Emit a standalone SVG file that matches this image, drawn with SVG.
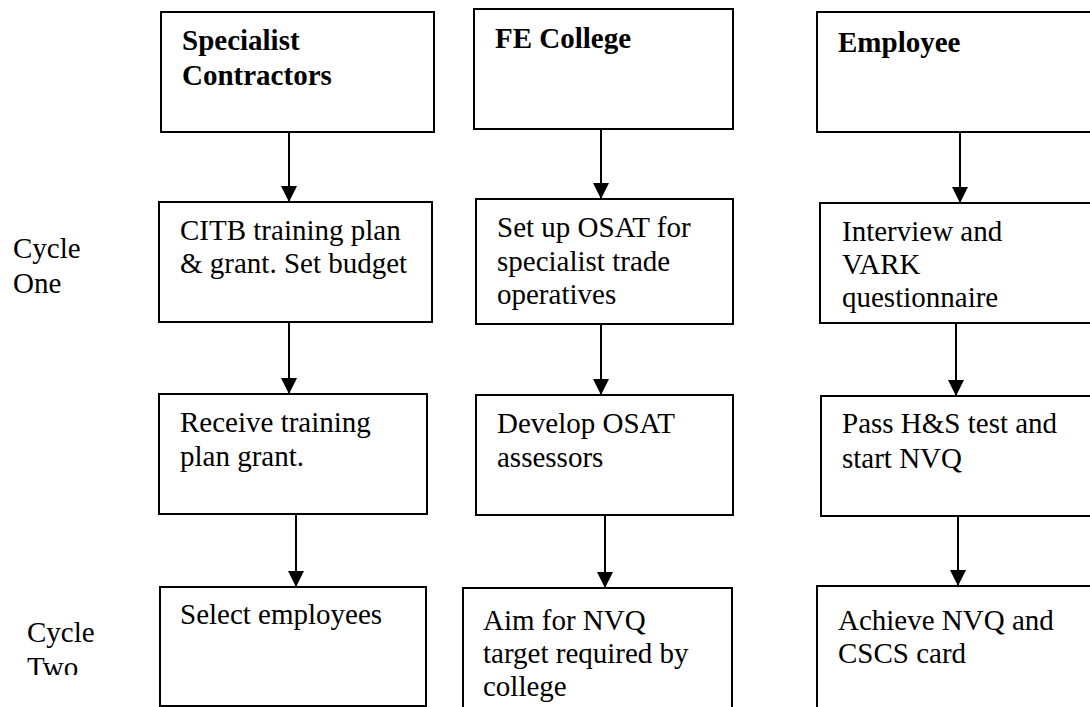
<svg xmlns="http://www.w3.org/2000/svg" width="1090" height="707" viewBox="0 0 1090 707">
<style>
.box{fill:#fff;stroke:#000;stroke-width:2}
.t{font-family:"Liberation Serif","Times New Roman",serif;font-size:29px;fill:#000}
.b{font-weight:bold}
.c{stroke:#000;stroke-width:2;fill:none;marker-end:url(#ah)}
</style>
<defs>
<marker id="ah" markerUnits="userSpaceOnUse" markerWidth="16" markerHeight="16" viewBox="0 0 16 16" refX="16" refY="8" orient="auto">
<path d="M0,0 L16,8 L0,16 z" fill="#000"/>
</marker>
<clipPath id="clipTwo"><rect x="0" y="600" width="150" height="75"/></clipPath>
</defs>
<rect width="1090" height="707" fill="#fff"/>

<g id="label-cycle-one">
<text class="t" x="13" y="258">Cycle</text>
<text class="t" x="13" y="293">One</text>
</g>
<g id="label-cycle-two" clip-path="url(#clipTwo)">
<text class="t" x="27" y="642">Cycle</text>
<text class="t" x="27" y="677">Two</text>
</g>

<g id="connectors">
<line class="c" x1="289" y1="132" x2="289" y2="202"/>
<line class="c" x1="289" y1="322" x2="289" y2="394"/>
<line class="c" x1="296" y1="514" x2="296" y2="587"/>
<line class="c" x1="601" y1="129" x2="601" y2="199"/>
<line class="c" x1="601" y1="324" x2="601" y2="395"/>
<line class="c" x1="605" y1="515" x2="605" y2="588"/>
<line class="c" x1="960" y1="132" x2="960" y2="203"/>
<line class="c" x1="956" y1="323" x2="956" y2="396"/>
<line class="c" x1="958" y1="516" x2="958" y2="586"/>
</g>

<g id="node-specialist">
<rect class="box" x="161" y="12" width="273" height="120"/>
<text class="t b" x="182" y="50">Specialist</text>
<text class="t b" x="182" y="85">Contractors</text>
</g>
<g id="node-citb">
<rect class="box" x="159" y="202" width="273" height="120"/>
<text class="t" x="180" y="240">CITB training plan</text>
<text class="t" x="180" y="273">&amp; grant. Set budget</text>
</g>
<g id="node-receive">
<rect class="box" x="159" y="394" width="268" height="120"/>
<text class="t" x="180" y="432">Receive training</text>
<text class="t" x="180" y="466">plan grant.</text>
</g>
<g id="node-select">
<rect class="box" x="160" y="587" width="266" height="119"/>
<text class="t" x="180" y="624">Select employees</text>
</g>

<g id="node-fe-college">
<rect class="box" x="474" y="9" width="259" height="120"/>
<text class="t b" x="495" y="48">FE College</text>
</g>
<g id="node-setup-osat">
<rect class="box" x="476" y="199" width="257" height="125"/>
<text class="t" x="497" y="237">Set up OSAT for</text>
<text class="t" x="497" y="271">specialist trade</text>
<text class="t" x="497" y="304">operatives</text>
</g>
<g id="node-develop-osat">
<rect class="box" x="476" y="395" width="257" height="120"/>
<text class="t" x="497" y="433">Develop OSAT</text>
<text class="t" x="497" y="467">assessors</text>
</g>
<g id="node-aim-nvq">
<rect class="box" x="463" y="588" width="269" height="140"/>
<text class="t" x="483" y="630">Aim for NVQ</text>
<text class="t" x="483" y="663">target required by</text>
<text class="t" x="483" y="696">college</text>
</g>

<g id="node-employee">
<rect class="box" x="817" y="12" width="290" height="120"/>
<text class="t b" x="838" y="52">Employee</text>
</g>
<g id="node-interview">
<rect class="box" x="820" y="203" width="290" height="120"/>
<text class="t" x="842" y="241">Interview and</text>
<text class="t" x="842" y="274">VARK</text>
<text class="t" x="842" y="307">questionnaire</text>
</g>
<g id="node-pass-hs">
<rect class="box" x="821" y="396" width="290" height="120"/>
<text class="t" x="842" y="433">Pass H&amp;S test and</text>
<text class="t" x="842" y="468">start NVQ</text>
</g>
<g id="node-achieve">
<rect class="box" x="817" y="586" width="290" height="140"/>
<text class="t" x="838" y="630">Achieve NVQ and</text>
<text class="t" x="838" y="663">CSCS card</text>
</g>
</svg>
